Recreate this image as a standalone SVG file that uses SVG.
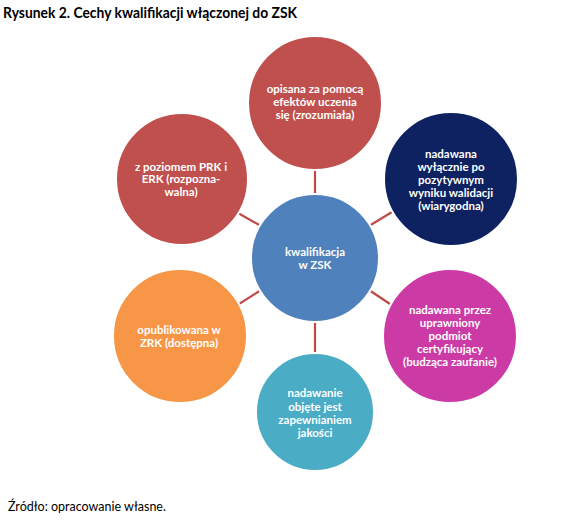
<svg xmlns="http://www.w3.org/2000/svg" width="566" height="527" viewBox="0 0 566 527">
<style>
.c{stroke:#fff;stroke-width:2}
.t{font-family:Lato,"Liberation Sans",sans-serif;font-weight:bold;font-size:11.5px;fill:#fff;text-anchor:middle}
.ln{stroke:#BE4B48;stroke-width:2.2}
</style>
<rect width="566" height="527" fill="#fff"/>
<text x="3" y="18" font-family="Lato,'Liberation Sans',sans-serif" font-weight="bold" font-size="14.5" fill="#000" textLength="294" lengthAdjust="spacingAndGlyphs">Rysunek 2. Cechy kwalifikacji włączonej do ZSK</text>
<g id="connectors">
<line class="ln" x1="315" y1="169" x2="315" y2="195"/>
<line class="ln" x1="315" y1="321" x2="315" y2="353"/>
<line class="ln" x1="238" y1="213" x2="261" y2="226"/>
<line class="ln" x1="392" y1="212" x2="369" y2="226"/>
<line class="ln" x1="369" y1="290" x2="390" y2="304"/>
<line class="ln" x1="261" y1="290" x2="239" y2="304"/>
</g>
<g id="n-top"><circle class="c" cx="315" cy="103" r="67" fill="#C0504D"/>
<text class="t"><tspan x="315" y="93">opisana za pomocą</tspan><tspan x="315" y="106">efektów uczenia</tspan><tspan x="315" y="119">się (zrozumiała)</tspan></text></g>
<g id="n-ul"><circle class="c" cx="182" cy="179" r="66" fill="#C0504D"/>
<text class="t"><tspan x="181" y="171">z poziomem PRK i</tspan><tspan x="181" y="183">ERK (rozpozna-</tspan><tspan x="181" y="196">walna)</tspan></text></g>
<g id="n-ur"><circle class="c" cx="451" cy="179" r="67" fill="#0E2160"/>
<text class="t"><tspan x="451" y="158">nadawana</tspan><tspan x="451" y="171">wyłącznie po</tspan><tspan x="451" y="184">pozytywnym</tspan><tspan x="451" y="197">wyniku walidacji</tspan><tspan x="451" y="210">(wiarygodna)</tspan></text></g>
<g id="n-center"><circle class="c" cx="315" cy="258" r="64" fill="#4F81BD"/>
<text class="t"><tspan x="315" y="256">kwalifikacja</tspan><tspan x="315" y="269">w ZSK</tspan></text></g>
<g id="n-lr"><circle class="c" cx="450" cy="336" r="67" fill="#CC3AA5"/>
<text class="t"><tspan x="450" y="314">nadawana przez</tspan><tspan x="450" y="327">uprawniony</tspan><tspan x="450" y="340">podmiot</tspan><tspan x="450" y="353">certyfikujący</tspan><tspan x="450" y="366">(budząca zaufanie)</tspan></text></g>
<g id="n-ll"><circle class="c" cx="180" cy="336" r="67" fill="#F79646"/>
<text class="t"><tspan x="179" y="334">opublikowana w</tspan><tspan x="179" y="347">ZRK (dostępna)</tspan></text></g>
<g id="n-bottom"><circle class="c" cx="315" cy="412" r="59" fill="#4BACC6"/>
<text class="t"><tspan x="315" y="397">nadawanie</tspan><tspan x="315" y="411">objęte jest</tspan><tspan x="315" y="424">zapewnianiem</tspan><tspan x="315" y="437">jakości</tspan></text></g>
<text x="8" y="511" font-family="Lato,'Liberation Sans',sans-serif" font-size="12.5" fill="#000">Źródło: opracowanie własne.</text>
</svg>
